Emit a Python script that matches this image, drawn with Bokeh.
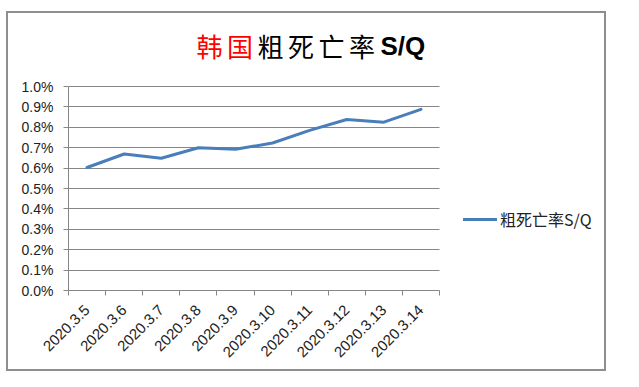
from bokeh.plotting import figure
from bokeh.models import (FixedTicker, Label, Legend, LegendItem, ColumnDataSource,
                          NumeralTickFormatter, Range1d)
from bokeh.embed import file_html
from bokeh.resources import INLINE
import math

# ---- data ----
dates = ["2020.3.5", "2020.3.6", "2020.3.7", "2020.3.8", "2020.3.9",
         "2020.3.10", "2020.3.11", "2020.3.12", "2020.3.13", "2020.3.14"]
rate = [0.00603, 0.00669, 0.00648, 0.00700, 0.00692,
        0.00723, 0.00785, 0.00838, 0.00825, 0.00888]
y_ticks = [0.000, 0.001, 0.002, 0.003, 0.004, 0.005, 0.006, 0.007, 0.008, 0.009, 0.010]
series_name = "粗死亡率S/Q"
title_red = "韩国"
title_black = "粗死亡率"
title_tail = "S/Q"

# ---- layout constants (pixels) ----
FIG_W, FIG_H = 600, 360
B_LEFT, B_BOTTOM = 60, 83
PLOT_W, PLOT_H = 371, 204          # visible axes box inside the frame
FRAME_W, FRAME_H = FIG_W - B_LEFT, FIG_H - B_BOTTOM

n = len(dates)
y_max = y_ticks[-1]
x0, x1 = 0.5, n + 0.5
x_end = x0 + (x1 - x0) * FRAME_W / PLOT_W
y_end = y_max * FRAME_H / PLOT_H

idx = list(range(1, n + 1))
src = ColumnDataSource(dict(x=idx, y=rate))

p = figure(width=FIG_W, height=FIG_H, output_backend="svg", toolbar_location=None,
           x_range=Range1d(x0, x_end), y_range=Range1d(0, y_end),
           min_border_left=B_LEFT, min_border_right=0, min_border_top=0,
           min_border_bottom=B_BOTTOM)
p.margin = (11, 0, 0, 6)
p.styles = {"border": "2px solid #8e8e8e"}
p.outline_line_color = None
p.background_fill_color = "white"
p.border_fill_color = "white"

line = p.line("x", "y", source=src, line_color="#4a7ebb", line_width=3,
              line_join="round", line_cap="round")

grid_col = "#868686"
font = "Liberation Sans"

# y axis
p.yaxis.ticker = FixedTicker(ticks=y_ticks)
p.yaxis.bounds = (0, y_max)
p.yaxis.formatter = NumeralTickFormatter(format="0.0%")
p.yaxis.axis_line_color = grid_col
p.yaxis.major_tick_line_color = grid_col
p.yaxis.major_tick_in = 0
p.yaxis.major_tick_out = 5
p.yaxis.minor_tick_line_color = None
p.yaxis.major_label_text_font = font
p.yaxis.major_label_text_font_size = "14px"
p.yaxis.major_label_text_color = "#222222"
p.yaxis.major_label_standoff = 10

# x axis: labels at centres, tick marks at boundaries
bounds = [i + 0.5 for i in range(0, n + 1)]
p.xaxis.ticker = FixedTicker(ticks=idx, minor_ticks=bounds)
p.xaxis.bounds = (x0, x1)
p.xaxis.major_label_overrides = {i: d for i, d in zip(idx, dates)}
p.xaxis.major_label_orientation = math.pi / 4
p.xaxis.axis_line_color = grid_col
p.xaxis.major_tick_line_color = None
p.xaxis.minor_tick_line_color = grid_col
p.xaxis.minor_tick_in = 0
p.xaxis.minor_tick_out = 5
p.xaxis.major_label_text_font = font
p.xaxis.major_label_text_font_size = "15px"
p.xaxis.major_label_text_color = "#222222"
p.xaxis.major_label_standoff = 11

p.xgrid.visible = False
p.ygrid.ticker = FixedTicker(ticks=y_ticks)
p.ygrid.cross_bounds = (x0, x1)
p.ygrid.grid_line_color = grid_col
p.ygrid.grid_line_width = 1

# title pieces, positioned in pixels relative to the axes box
def px_x(px):
    return x0 + (x1 - x0) * px / PLOT_W

def px_y(py):
    return y_max * py / PLOT_H

cjk = "Noto Sans CJK SC"
title_y = px_y(245)
CH_ADV = 30.5
start = 128
chars = [(c, "red") for c in title_red] + [(c, "black") for c in title_black]
for k, (c, col) in enumerate(chars):
    p.add_layout(Label(x=px_x(start + k * CH_ADV), y=title_y, text=c,
                       text_color=col, text_font=cjk, text_font_size="26px",
                       text_baseline="middle", text_align="left"))
p.add_layout(Label(x=px_x(start + len(chars) * CH_ADV + 1), y=title_y, text=title_tail,
                   text_color="black", text_font="Liberation Sans",
                   text_font_style="bold", text_font_size="26px",
                   text_baseline="middle", text_align="left"))

legend = Legend(items=[LegendItem(label=series_name, renderers=[line])],
                location=(395, 59), padding=0, margin=0, border_line_color=None,
                background_fill_alpha=0, glyph_width=34, glyph_height=20,
                label_standoff=3, label_text_font=cjk,
                label_text_font_size="16px", label_text_color="#222222")
p.add_layout(legend, "center")

open("out.html", "w").write(file_html(p, INLINE))
